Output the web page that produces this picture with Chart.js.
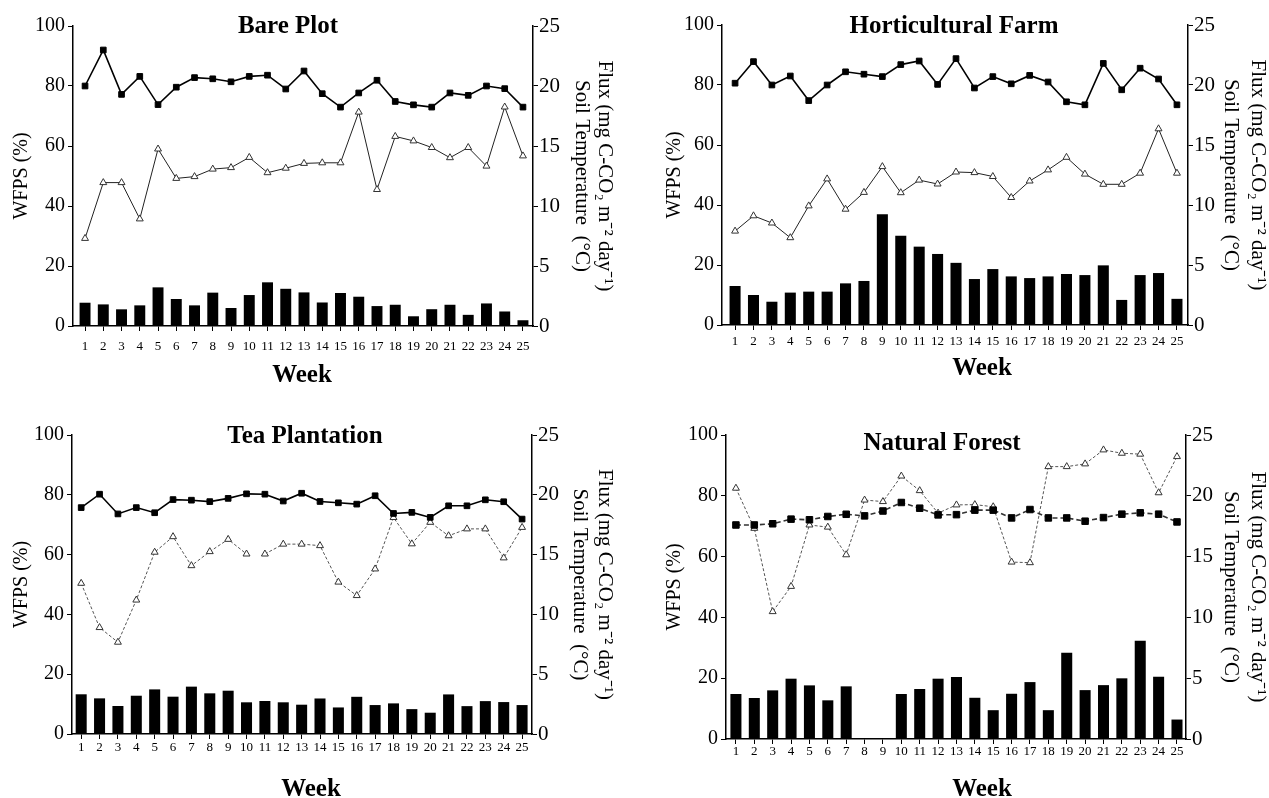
<!DOCTYPE html>
<html>
<head>
<meta charset="utf-8">
<script src="https://cdn.jsdelivr.net/npm/chart.js@4.4.1/dist/chart.umd.min.js"></script>
<style>
html,body{margin:0;padding:0;background:#fff;overflow:hidden;width:1269px;height:798px;}
canvas{position:absolute;}
</style>
</head>
<body>
<canvas id="c1"></canvas>
<canvas id="c2"></canvas>
<canvas id="c3"></canvas>
<canvas id="c4"></canvas>
<script>
// ---------- data ----------
const weeks = [1,2,3,4,5,6,7,8,9,10,11,12,13,14,15,16,17,18,19,20,21,22,23,24,25];

const panelTitles = ['Bare Plot', 'Horticultural Farm', 'Tea Plantation', 'Natural Forest'];
const weekTitle = 'Week';
const wfpsTitle = 'WFPS (%)';
const rightTitle = ['Flux (mg C-CO\u2082 m\u207B\u00B2 day\u207B\u00B9)', 'Soil Temperature  (\u00B0C)'];
const leftTicks = [0, 20, 40, 60, 80, 100];
const rightTicks = [0, 5, 10, 15, 20, 25];

// Bare Plot
const bareTemp = [20.0, 23.0, 19.3, 20.8, 18.45, 19.9, 20.7, 20.6, 20.35, 20.8, 20.9, 19.75, 21.25, 19.36, 18.24, 19.42, 20.48, 18.71, 18.43, 18.24, 19.42, 19.22, 20.0, 19.78, 18.24];
const bareWfps = [29.2, 47.8, 47.8, 35.7, 59.0, 49.2, 49.8, 52.3, 52.8, 56.2, 51.1, 52.6, 54.2, 54.4, 54.4, 71.3, 45.5, 63.2, 61.7, 59.5, 56.1, 59.5, 53.3, 73.0, 56.7];
const bareFlux = [1.94, 1.8, 1.39, 1.72, 3.22, 2.25, 1.72, 2.78, 1.5, 2.58, 3.64, 3.1, 2.8, 1.96, 2.75, 2.44, 1.66, 1.77, 0.81, 1.4, 1.77, 0.93, 1.88, 1.21, 0.48];

// Horticultural Farm
const hortTemp = [20.15, 21.95, 20.0, 20.75, 18.7, 20.0, 21.1, 20.9, 20.7, 21.7, 22.0, 20.05, 22.2, 19.75, 20.7, 20.1, 20.8, 20.25, 18.6, 18.35, 21.8, 19.6, 21.4, 20.5, 18.35];
const hortWfps = [31.3, 36.4, 34.0, 29.1, 39.7, 48.7, 38.6, 44.2, 52.8, 44.1, 48.3, 47.0, 51.0, 50.8, 49.5, 42.5, 48.0, 51.7, 55.9, 50.3, 46.9, 46.9, 50.6, 65.4, 50.6];
const hortFlux = [3.25, 2.5, 1.94, 2.7, 2.78, 2.78, 3.47, 3.67, 9.22, 7.44, 6.53, 5.92, 5.18, 3.83, 4.66, 4.05, 3.91, 4.05, 4.25, 4.16, 4.97, 2.09, 4.16, 4.33, 2.18];

// Tea Plantation
const teaTemp = [18.93, 20.05, 18.4, 18.93, 18.5, 19.6, 19.55, 19.43, 19.7, 20.08, 20.05, 19.48, 20.13, 19.44, 19.33, 19.22, 19.92, 18.44, 18.53, 18.11, 19.08, 19.08, 19.58, 19.42, 17.97];
const teaWfps = [50.4, 35.6, 30.7, 44.8, 60.8, 66.0, 56.3, 61.0, 65.1, 60.2, 60.2, 63.5, 63.5, 63.0, 50.8, 46.3, 55.2, 72.4, 63.6, 70.8, 66.3, 68.6, 68.6, 58.9, 69.1];
const teaFlux = [3.32, 2.98, 2.34, 3.2, 3.73, 3.12, 3.96, 3.4, 3.62, 2.65, 2.76, 2.65, 2.45, 2.97, 2.22, 3.11, 2.42, 2.56, 2.08, 1.78, 3.31, 2.33, 2.75, 2.67, 2.42];
const teaWfpsBreaks = [10]; // WFPS line not drawn between week 10 and 11

// Natural Forest
const forestTemp = [17.6, 17.6, 17.7, 18.08, 18.03, 18.3, 18.48, 18.35, 18.75, 19.45, 18.98, 18.43, 18.45, 18.82, 18.82, 18.18, 18.87, 18.18, 18.18, 17.91, 18.21, 18.49, 18.6, 18.49, 17.85];
const forestWfps = [82.5, 69.3, 41.9, 50.2, 70.4, 69.7, 60.6, 78.6, 78.1, 86.5, 81.7, 74.3, 77.0, 77.1, 76.4, 58.2, 58.0, 89.6, 89.6, 90.5, 95.1, 94.0, 93.7, 81.0, 92.9];
const forestFlux = [3.7, 3.37, 4.0, 4.96, 4.41, 3.18, 4.33, 0, 0, 3.7, 4.11, 4.96, 5.1, 3.39, 2.37, 3.72, 4.68, 2.37, 7.1, 4.02, 4.43, 4.99, 8.07, 5.12, 1.6];

// ---------- layout / style ----------
const SERIF = '"Liberation Serif", "Times New Roman", Times, serif';
Chart.defaults.font.family = SERIF;
Chart.defaults.color = '#000';

const panels = [
  { id:'c1', title:panelTitles[0], temp:bareTemp, wfps:bareWfps, flux:bareFlux, breaks:[],
    cx:0, cy:0, cw:634, ch:420, L:73, R:533, T:26, B:326, xmin:0.34, xmax:25.55, xPad:8,
    titleX:288, titleY:33, weekX:302, weekY:382, wfpsX:22, fluxX:605, rLH:1.1,
    tempDash:[], tempColor:'#000', wfpsDash:[], wfpsColor:'#222', sqR:4 },
  { id:'c2', title:panelTitles[1], temp:hortTemp, wfps:hortWfps, flux:hortFlux, breaks:[],
    cx:634, cy:0, cw:660, ch:420, L:722, R:1188, T:25, B:325, xmin:0.29, xmax:25.6, xPad:4,
    titleX:954, titleY:33, weekX:982, weekY:375, wfpsX:675, fluxX:1258, rLH:1.33,
    tempDash:[], tempColor:'#000', wfpsDash:[], wfpsColor:'#222', sqR:4 },
  { id:'c3', title:panelTitles[2], temp:teaTemp, wfps:teaWfps, flux:teaFlux, breaks:teaWfpsBreaks,
    cx:0, cy:399, cw:634, ch:420, L:72, R:532, T:435, B:734, xmin:0.5, xmax:25.54, xPad:1,
    titleX:305, titleY:443, weekX:311, weekY:796, wfpsX:22, fluxX:605, rLH:1.2,
    tempDash:[], tempColor:'#000', wfpsDash:[3,2], wfpsColor:'#555', sqR:4 },
  { id:'c4', title:panelTitles[3], temp:forestTemp, wfps:forestWfps, flux:forestFlux, breaks:[],
    cx:634, cy:399, cw:660, ch:420, L:726, R:1186, T:435, B:739, xmin:0.46, xmax:25.49, xPad:0,
    titleX:942, titleY:450, weekX:982, weekY:796, wfpsX:675, fluxX:1258, rLH:1.33,
    tempDash:[5,3], tempColor:'#333', wfpsDash:[3,2], wfpsColor:'#555', sqR:4.6 }
];

const XH = 40;
const axisGrid = { display:true, drawOnChartArea:false, drawTicks:true, tickLength:5, color:'#000', lineWidth:1, offset:false };
const axisBorder = { display:true, color:'#000', width:1.5 };

function makePanel(p) {
  const cv = document.getElementById(p.id);
  cv.width = p.cw; cv.height = p.ch;
  cv.style.left = p.cx + 'px'; cv.style.top = p.cy + 'px';
  cv.style.width = p.cw + 'px'; cv.style.height = p.ch + 'px';

  const leftW = p.L - p.cx;
  const rightW = (p.cx + p.cw) - p.R;
  const padTop = p.T - p.cy;
  const padBottom = (p.cy + p.ch) - p.B - XH;
  const lFont = 20, lLH = 1.2;
  const rFont = 21;
  const lTitlePad = (p.wfpsX - p.cx) - lFont * lLH / 2;
  const rTitlePad = (p.cx + p.cw - p.fluxX) - rFont * p.rLH / 2;

  const textPlugin = {
    id: 'panelText_' + p.id,
    afterDraw(chart) {
      const ctx = chart.ctx;
      ctx.save();
      ctx.fillStyle = '#000';
      ctx.textAlign = 'center';
      ctx.textBaseline = 'alphabetic';
      ctx.font = 'bold 25px ' + SERIF;
      ctx.fillText(p.title, p.titleX - p.cx, p.titleY - p.cy);
      ctx.fillText(weekTitle, p.weekX - p.cx, p.weekY - p.cy);
      ctx.restore();
    }
  };

  new Chart(cv, {
    type: 'bar',
    data: {
      labels: weeks,
      datasets: [
        { type:'line', label:'Soil Temperature', data:p.temp, yAxisID:'y1', order:1,
          borderColor:p.tempColor, borderWidth:1.6, borderDash:p.tempDash, tension:0,
          pointStyle:'rect', pointRadius:p.sqR, pointBackgroundColor:'#000', pointBorderColor:'#000', pointBorderWidth:1 },
        { type:'line', label:'WFPS', data:p.wfps, yAxisID:'y', order:2,
          borderColor:p.wfpsColor, borderWidth:1, borderDash:p.wfpsDash, tension:0,
          pointStyle:'triangle', pointRadius:4, pointBackgroundColor:'#fff', pointBorderColor:'#333', pointBorderWidth:1,
          segment: { borderColor: ctx => p.breaks.includes(weeks[ctx.p0DataIndex]) ? 'rgba(0,0,0,0)' : undefined } },
        { type:'bar', label:'Flux', data:p.flux, yAxisID:'y1', order:3,
          backgroundColor:'#000', borderWidth:0, barPercentage:0.6, categoryPercentage:1 }
      ]
    },
    options: {
      responsive:false, animation:false, devicePixelRatio:1,
      layout: { padding: { left:0, right:0, top:padTop, bottom:padBottom } },
      plugins: { legend:{display:false}, tooltip:{enabled:false} },
      scales: {
        x: {
          type:'linear', position:'bottom', min:p.xmin, max:p.xmax, offset:false,
          afterBuildTicks: s => { s.ticks = weeks.map(v => ({ value:v })); },
          afterFit: s => { s.height = XH; },
          grid: axisGrid, border: axisBorder,
          ticks: { font:{ size:13 }, color:'#000', padding:p.xPad, maxRotation:0, minRotation:0, autoSkip:false,
                   callback: v => String(v) }
        },
        y: {
          position:'left', min:0, max:100,
          afterBuildTicks: s => { s.ticks = leftTicks.map(v => ({ value:v })); },
          afterFit: s => { s.width = leftW; },
          grid: axisGrid, border: axisBorder,
          ticks: { font:{ size:20 }, color:'#000', padding:3 },
          title: { display:true, text:wfpsTitle, color:'#000', font:{ size:lFont, lineHeight:lLH }, padding:{ top:lTitlePad, bottom:0 } }
        },
        y1: {
          position:'right', min:0, max:25,
          afterBuildTicks: s => { s.ticks = rightTicks.map(v => ({ value:v })); },
          afterFit: s => { s.width = rightW; },
          grid: axisGrid, border: axisBorder,
          ticks: { font:{ size:21 }, color:'#000', padding:1 },
          title: { display:true, text:rightTitle, color:'#000', font:{ size:rFont, lineHeight:p.rLH }, padding:{ top:rTitlePad, bottom:0 } }
        }
      }
    },
    plugins: [textPlugin]
  });
}

panels.forEach(makePanel);
</script>
</body>
</html>
